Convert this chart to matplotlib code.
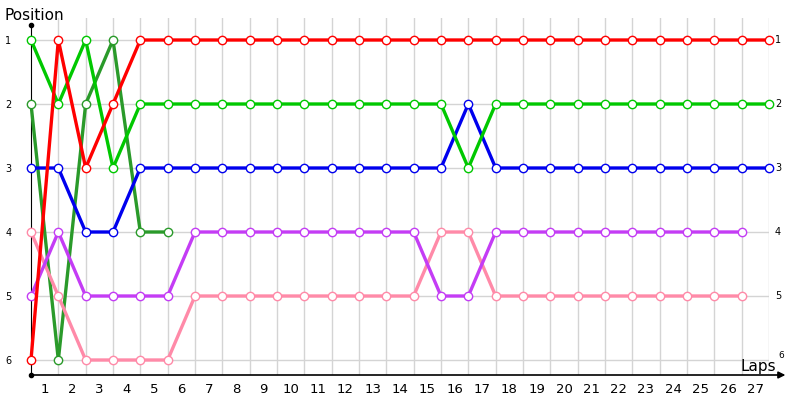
import matplotlib
matplotlib.use("Agg")
import matplotlib.pyplot as plt

laps = list(range(0, 28))
red = [6, 1, 3, 2] + [1] * 24
light_green = [1, 2, 1, 3] + [2] * 12 + [3] + [2] * 11
dark_green = [2, 6, 2, 1, 4, 4]
blue = [3, 3, 4, 4] + [3] * 12 + [2] + [3] * 11
purple = [5, 4, 5, 5, 5, 5] + [4] * 9 + [5, 5] + [4] * 10
pink = [4, 5, 6, 6, 6, 6] + [5] * 9 + [4, 4] + [5] * 10
positions = [1, 2, 3, 4, 5, 6]
lap_labels = [str(k) for k in range(1, 28)]

series = [
    (dark_green, "#2a9a2a"),
    (pink, "#ff8aa8"),
    (purple, "#c43cf5"),
    (blue, "#0000ee"),
    (light_green, "#00c800"),
    (red, "#ff0000"),
]

fig = plt.figure(figsize=(8, 4), dpi=100)
ax = fig.add_axes([31 / 800, 25 / 400, 738 / 800, 357 / 400])
ybot = 6 + 15 / 64
ytop = 1 - 22 / 64
ax.set_xlim(0, 27)
ax.set_ylim(ybot, ytop)

for k in range(1, 28):
    ax.plot([k, k], [ybot, ytop], color="#d4d4d4", lw=1, zorder=0)
for p in positions:
    ax.plot([0, 27], [p, p], color="#d4d4d4", lw=1, zorder=0)

for vals, col in series:
    ax.plot(laps[:len(vals)], vals, color=col, lw=2.4, marker="o", ms=6,
            mfc="white", mec=col, mew=1.0, zorder=3, clip_on=False)

for s in ["top", "right", "bottom"]:
    ax.spines[s].set_visible(False)
ax.spines["left"].set_bounds(ybot, 1 - 15 / 64)
ax.spines["left"].set_color("black")

ax.annotate("", xy=(27.6, ybot), xytext=(0, ybot), xycoords="data",
            arrowprops=dict(arrowstyle="-|>", color="black", lw=1.2,
                            mutation_scale=10, shrinkA=0, shrinkB=0),
            annotation_clip=False)
ax.plot([0, 0], [ybot, 1 - 15 / 64], "o", color="black", ms=3, clip_on=False, zorder=5)

ax.set_xticks([k - 0.5 for k in range(1, 28)])
ax.set_xticklabels(lap_labels, fontsize=9.5)
ax.tick_params(axis="x", length=0, pad=6)
ax.set_yticks(positions)
ax.set_yticklabels([str(p) for p in positions], fontsize=7)
ax.tick_params(axis="y", length=0, pad=14)
for p in positions:
    if p < 6:
        ax.text(27 + 9 / 27.33, p, str(p), fontsize=7, ha="center", va="center",
                clip_on=False)
    else:
        ax.text(27 + 12 / 27.33, p - 0.07, str(p), fontsize=6.5, ha="center",
                va="center", clip_on=False)

fig.text(5 / 800, 1 - 15 / 400, "Position", fontsize=11, ha="left", va="center")
fig.text(741 / 800, 1 - 366 / 400, "Laps", fontsize=11, ha="left", va="center")

fig.savefig("out.png", dpi=100)
